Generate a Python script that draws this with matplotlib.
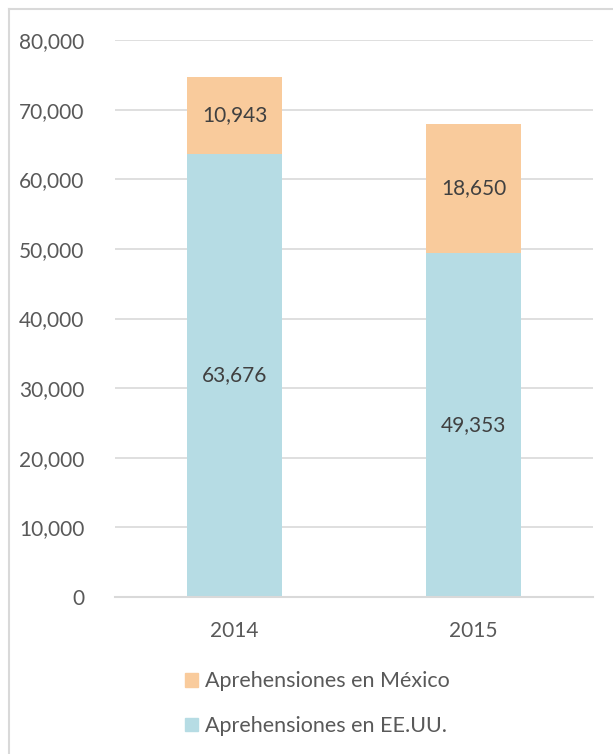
import matplotlib
matplotlib.use("Agg")
import matplotlib.pyplot as plt
from matplotlib.lines import Line2D
from matplotlib.patches import Patch
import numpy as np

plt.rcParams['font.family'] = ['Lato', 'DejaVu Sans']

years = ["2014", "2015"]
us = [63676, 49353]
mexico = [10943, 18650]
series_names = ["Aprehensiones en México", "Aprehensiones en EE.UU."]
yticks = [0, 10000, 20000, 30000, 40000, 50000, 60000, 70000, 80000]

blue = "#B6DCE4"
orange = "#F9CB9C"
grid_c = "#D9D9D9"
text_c = "#595959"
label_c = "#404040"

fig = plt.figure(figsize=(6.13, 7.54), dpi=100)
ax = fig.add_axes([115 / 613, 1 - 597 / 754, 478 / 613, 557 / 754])

x = np.arange(len(years))
ax.bar(x, us, width=0.4, color=blue, zorder=2)
ax.bar(x, mexico, width=0.4, bottom=us, color=orange, zorder=2)

for i in range(len(years)):
    ax.text(x[i], us[i] / 2, f"{us[i]:,}", ha="center", va="center",
            fontsize=15, color=label_c, zorder=3)
    ax.text(x[i], us[i] + mexico[i] / 2, f"{mexico[i]:,}", ha="center", va="center",
            fontsize=15, color=label_c, zorder=3)

ax.set_xlim(-0.5, 1.5)
ax.set_ylim(0, 80000)
ax.set_yticks(yticks)
ax.set_yticklabels([f"{v:,}" for v in yticks])
ax.set_xticks(x)
ax.set_xticklabels(years)
ax.tick_params(axis="both", length=0, labelsize=15, labelcolor=text_c)
ax.tick_params(axis="y", pad=22)
ax.tick_params(axis="x", pad=17)
ax.yaxis.grid(True, color=grid_c, linewidth=1.2, zorder=0)
for s in ["left", "right", "top"]:
    ax.spines[s].set_visible(False)
ax.spines["bottom"].set_color(grid_c)
ax.spines["bottom"].set_linewidth(1.5)

# legend
handles = [Patch(color=orange), Patch(color=blue)]
fig.legend(handles, series_names, loc="upper left",
           bbox_to_anchor=(166 / 613, 1 - 652 / 754), frameon=False,
           fontsize=15.5, labelcolor=text_c, handlelength=0.6,
           handleheight=0.6, handletextpad=0.3, labelspacing=1.15)

# chart frame
fig.add_artist(Line2D([9 / 613, 9 / 613], [0, 1 - 9 / 754], transform=fig.transFigure,
                      color=grid_c, linewidth=1.5))
fig.add_artist(Line2D([9 / 613, 1], [1 - 9 / 754, 1 - 9 / 754], transform=fig.transFigure,
                      color=grid_c, linewidth=1.5))

fig.savefig("out.png", dpi=100)
